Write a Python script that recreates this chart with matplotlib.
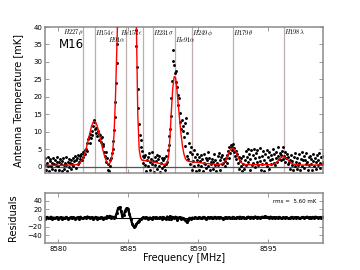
import matplotlib
matplotlib.use("Agg")
import matplotlib.pyplot as plt
import numpy as np

plt.rcParams.update({"font.family": "DejaVu Sans", "mathtext.fontset": "cm"})

# spectrum channels (0.05 MHz), model / residual sampled every 0.1 MHz
data_freq = 8579.0 + 0.05 * np.arange(400)
model_freq = 8579.0 + 0.1 * np.arange(200)

antenna_temp = [
    1.8, 0.5, 2.6, -0.8, 1.2, 2.9, 0.3, -1.2, 1.6, 2.2, 0.1, 1.1, -0.6, 2.4, 0.8, 1.9, -1.0, 0.6, 2.7, 1.3,
    0.2, 1.5, -0.9, 2.1, 0.9, -1.3, 1.7, 2.5, 0.4, -0.5, 1.2, 2.8, 0.6, -1.1, 1.4, 0.0, 2.2, 1.0, -0.7, 1.8,
    0.9, 2.4, 0.3, 1.6, 3.1, -0.4, 1.9, 2.6, 0.8, 3.3, 1.4, 3.0, 2.2, 3.6, 1.8, 4.2, 2.9, 3.8, 4.9, 3.7,
    5.2, 6.8, 4.6, 7.9, 8.4, 6.9, 9.3, 8.1, 10.2, 9.0, 11.6, 12.9, 13.4, 10.8, 9.7, 11.2, 8.9, 10.1, 9.4, 7.8,
    9.0, 8.2, 7.1, 8.6, 5.9, 6.4, 4.3, 3.1, 4.2, 1.4, 2.6, -0.8, 0.9, -1.2, 1.8, 0.3, 2.4, 3.9, 5.2, 7.5,
    10.5, 14.2, 18.6, 24.1, 29.8, 35.2, 41.0, 47.0, 55.0, 60.0, 58.0, 55.0, 52.0, 50.0, 52.0, 56.0, 60.0, 62.0, 62.0, 60.0,
    60.0, 58.0, 56.0, 54.0, 52.0, 50.0, 47.0, 45.0, 43.5, 42.0, 41.0, 39.0, 34.5, 28.6, 22.4, 16.8, 12.2, 9.1, 7.6, 5.8,
    4.6, 3.2, 1.1, 2.8, 0.4, 3.5, -1.2, 1.9, 2.7, 0.2, 3.9, 1.4, -0.9, 2.3, 4.1, 0.8, 1.6, -1.4, 2.9, 0.5,
    1.7, 3.4, -0.6, 2.1, 0.3, 3.0, -1.5, 1.2, 2.6, -0.3, 1.8, 0.1, 2.4, -1.0, 0.7, 3.2, 1.5, 4.8, 6.2, 8.9,
    10.8, 14.5, 19.7, 24.6, 30.2, 33.4, 29.1, 26.8, 24.2, 27.5, 22.9, 20.4, 17.8, 19.6, 15.3, 12.7, 10.9, 13.4, 11.6, 10.2,
    8.4, 12.6, 5.9, 14.1, 3.2, 9.8, 2.1, 6.7, 4.3, 0.9, 5.6, -0.8, 3.8, 1.6, 4.9, 0.2, 2.7, -1.1, 1.9, 3.6,
    0.5, 2.8, -0.9, 1.6, 3.4, 0.2, 2.1, -1.3, 1.0, 3.8, 0.7, 2.5, -0.4, 1.9, 4.2, 0.3, 2.6, -1.0, 1.4, 0.8,
    2.3, -0.6, 1.5, 3.6, 0.4, 2.0, -1.2, 1.1, 3.1, 0.6, 4.0, 1.8, -0.8, 2.7, 0.9, 3.4, 1.2, 2.2, 0.1, 1.7,
    2.6, 1.2, 3.3, 4.5, 2.4, 5.6, 3.9, 6.1, 4.7, 5.8, 6.4, 4.2, 5.5, 3.1, 4.6, 2.3, 3.8, 1.0, 2.9, -0.7,
    1.6, 0.2, 2.4, -1.3, 0.8, 3.0, -0.5, 1.9, 4.6, 0.6, 2.9, 5.2, 1.3, 3.7, -0.9, 2.1, 4.8, 0.4, 3.3, 1.1,
    5.1, 2.5, -0.2, 3.9, 1.4, 4.7, 0.5, 2.8, 5.4, 1.7, -0.8, 3.2, 0.9, 4.4, 2.0, -1.1, 3.6, 1.2, 4.9, 0.3,
    2.7, 4.1, -0.6, 1.8, 3.5, 0.7, 2.3, 5.0, 1.1, 3.8, 0.4, 2.6, 4.3, 1.5, 3.0, 5.6, 2.2, 4.0, 1.9, 3.4,
    4.5, 2.1, 5.8, 3.2, 1.4, 4.2, 2.5, 3.6, 0.8, 2.9, 1.3, -0.5, 2.0, 3.5, 0.6, 1.7, -0.9, 2.8, 0.2, 3.9,
    1.4, -0.7, 2.6, 0.5, 3.7, 1.2, -1.0, 2.3, 4.1, 0.3, 1.8, 3.2, -0.4, 2.0, 0.9, 3.9, 1.5, -0.8, 2.7, 0.6,
    3.1, 0.8, 2.2, -0.9, 1.6, 3.6, 0.2, 2.5, -0.6, 1.3, 3.4, 0.5, 2.0, 4.0, 1.1, -0.3, 2.8, 0.9, 3.2, 1.4,
]

model_fit = [
    0.40, 0.40, 0.40, 0.40, 0.40, 0.41, 0.41, 0.41, 0.42, 0.42,
    0.42, 0.43, 0.43, 0.44, 0.45, 0.46, 0.47, 0.48, 0.50, 0.52,
    0.50, 0.52, 0.55, 0.60, 0.70, 0.90, 1.20, 1.75, 2.50, 3.60,
    5.0, 6.7, 8.5, 10.2, 11.7, 12.7, 13.0, 12.7, 11.7, 10.2,
    8.4, 6.6, 4.9, 3.4, 2.2, 1.2, 0.8, 1.0, 2.0, 4.0,
    9.0, 19.0, 33.0, 48.0, 60.0, 68.0, 72.0, 74.0, 74.0, 72.0,
    69.0, 66.0, 62.0, 58.0, 53.0, 47.0, 40.5, 15.0, 5.0, 2.6,
    1.9, 1.8, 1.8, 1.7, 1.7, 1.6, 1.6, 1.5, 1.4, 1.3,
    1.2, 1.1, 1.0, 0.9, 0.8, 0.7, 0.7, 0.8, 1.2, 2.8,
    8.5, 16.0, 22.5, 25.8, 25.5, 22.0, 17.5, 13.0, 9.0, 5.8,
    3.6, 2.4, 1.8, 1.6, 1.5, 1.5, 1.4, 1.4, 1.3, 1.3,
    1.2, 1.2, 1.1, 1.1, 1.0, 1.0, 0.9, 0.9, 0.9, 0.8,
    0.8, 0.8, 0.7, 0.7, 0.7, 0.7, 0.7, 0.8, 1.0, 1.4,
    2.1, 3.0, 4.0, 4.8, 5.3, 5.4, 5.0, 4.3, 3.4, 2.5,
    1.7, 1.2, 0.9, 0.7, 0.6, 0.6, 0.6, 0.6, 0.6, 0.6,
    0.6, 0.6, 0.6, 0.6, 0.6, 0.6, 0.6, 0.6, 0.6, 0.6,
    0.6, 0.6, 0.6, 0.6, 0.7, 0.9, 1.2, 1.6, 2.1, 2.5,
    2.8, 2.9, 2.8, 2.5, 2.1, 1.7, 1.3, 1.0, 0.8, 0.7,
    0.6, 0.6, 0.55, 0.55, 0.5, 0.5, 0.5, 0.5, 0.5, 0.5,
    0.5, 0.5, 0.5, 0.5, 0.5, 0.5, 0.5, 0.5, 0.5, 0.5,
]

residuals = [
    1.5, -2.0, 2.5, -1.0, 0.5, 3.0, -2.5, 1.0, -0.5, 2.0,
    -1.5, 0.5, 2.0, -2.0, 1.0, -0.5, 2.5, -1.5, 0.0, 1.5,
    -1.0, 2.0, -2.0, 0.5, 1.5, -1.5, 3.0, 0.0, -1.0, 2.0,
    0.5, 3.5, 1.5, -1.0, 2.0, -2.0, 0.5, 2.5, -1.5, 1.0,
    -0.5, 2.0, -1.5, 1.0, 0.0, 4.0, 2.5, 5.0, 1.0, 3.0,
    1.0, 3.0, 12.0, 23.0, 25.0, 17.0, 4.0, 6.0, 17.0, 23.0,
    21.0, 10.0, -2.0, -13.0, -20.0, -19.0, -14.0, -10.0, -6.0, -3.0,
    -1.0, 1.5, -0.5, 2.0, -1.5, 0.5, 1.0, -2.0, 1.5, 0.0,
    2.0, -1.0, 0.5, 1.5, -1.5, 2.5, 0.0, -2.5, 3.5, -3.0,
    4.0, -2.0, 2.5, -1.0, 3.0, -3.5, 1.0, 2.0, -1.5, 0.5,
    -2.0, -5.0, -10.0, -4.0, 0.5, -1.5, 1.0, -0.5, 1.5, -1.0,
    0.5, 2.0, -1.0, 1.0, 2.5, 0.0, -1.5, 1.5, 0.5, 2.0,
    -0.5, 1.0, 2.5, 0.0, 1.5, -1.0, 2.0, 0.5, -1.5, 1.0,
    2.0, 0.0, 1.5, -1.0, 0.5, 2.5, 1.0, -0.5, 2.0, 1.0,
    3.0, 0.5, 2.0, 1.0, -0.5, 1.5, 3.0, 0.5, 2.5, 1.0,
    2.0, 3.5, 1.0, 2.5, 0.0, 1.5, 3.0, 2.0, 4.0, 1.5,
    2.5, 1.0, 3.0, 0.5, 2.0, -0.5, 1.5, 0.0, 2.5, 1.0,
    -0.5, 1.5, 0.0, 2.0, 0.5, -1.0, 1.0, 2.5, 0.5, 1.5,
    0.0, 2.0, 1.0, -0.5, 1.5, 2.5, 0.5, 1.5, 3.0, 1.0,
    2.0, 0.5, 2.5, 1.0, 3.0, 1.5, 0.0, 2.0, 1.0, 2.5,
]

# recombination line markers
line_freqs = [8581.81, 8582.61, 8584.86, 8586.07, 8586.78, 8588.36, 8589.57, 8592.50, 8596.14]
label_text = [r"$H227\rho$", r"$H154\epsilon$", r"$H91\alpha$", r"$He154\epsilon$", r"$H231\sigma$",
              r"$He91\alpha$", r"$H249\phi$", r"$H179\theta$", r"$H198\lambda$"]
label_freqs = [8580.36, 8582.64, 8583.57, 8584.45, 8586.78, 8588.36, 8589.57, 8592.50, 8596.14]
label_rows = [0, 0, 1, 0, 0, 1, 0, 0, 0]

XLIM = (8579.07, 8598.93)
frame = "#8a8a8a"

fig = plt.figure(figsize=(3.6, 2.7), dpi=100)
ax = fig.add_axes([0.125, 0.359, 0.772, 0.541])
axr = fig.add_axes([0.125, 0.10, 0.772, 0.185])

for f in line_freqs:
    ax.axvline(f, color="#bdaeae", lw=0.9, zorder=1)
ax.axhline(0, color="#555555", lw=0.9, zorder=1)
ax.plot(data_freq, antenna_temp, "o", color="k", ms=2.1, mec="none", zorder=2)
ax.plot(model_freq, model_fit, "-", color="red", lw=1.0, zorder=3)

for txt, f, row in zip(label_text, label_freqs, label_rows):
    ax.text(f, 39.7 - 1.9 * row, txt, fontsize=4.7, ha="left", va="top", zorder=4)
ax.text(8580.07, 34.9, "M16", fontsize=8.5, ha="left", va="center")

ax.set_xlim(*XLIM)
ax.set_ylim(-1.8, 40)
ax.set_yticks(range(0, 41, 5))
ax.set_xticks([8580, 8585, 8590, 8595])
ax.set_xticklabels([])
ax.set_ylabel("Antenna Temperature [mK]", fontsize=7)
ax.yaxis.set_label_coords(-0.075, 0.5)

axr.axhline(0, color="k", lw=0.8, zorder=1)
axr.plot(model_freq, residuals, "-", color="k", lw=1.7, marker="o", ms=2.2, mec="none", zorder=2)
axr.set_xlim(*XLIM)
axr.set_ylim(-58, 58)
axr.set_yticks([-40, -20, 0, 20, 40])
axr.set_xticks([8580, 8585, 8590, 8595])
axr.text(0.975, 0.84, "rms =  5.60 mK", transform=axr.transAxes, fontsize=4, ha="right", va="center")
axr.set_ylabel("Residuals", fontsize=7)
axr.yaxis.set_label_coords(-0.097, 0.5)
axr.set_xlabel("Frequency [MHz]", fontsize=7)
axr.xaxis.set_label_coords(0.5, -0.2)

for a in (ax, axr):
    for s in a.spines.values():
        s.set_color(frame)
        s.set_linewidth(1.1)
    a.tick_params(direction="in", top=True, right=True, length=3, width=0.6,
                  color=frame, labelsize=5, pad=2)

fig.savefig("out.png", dpi=100)
